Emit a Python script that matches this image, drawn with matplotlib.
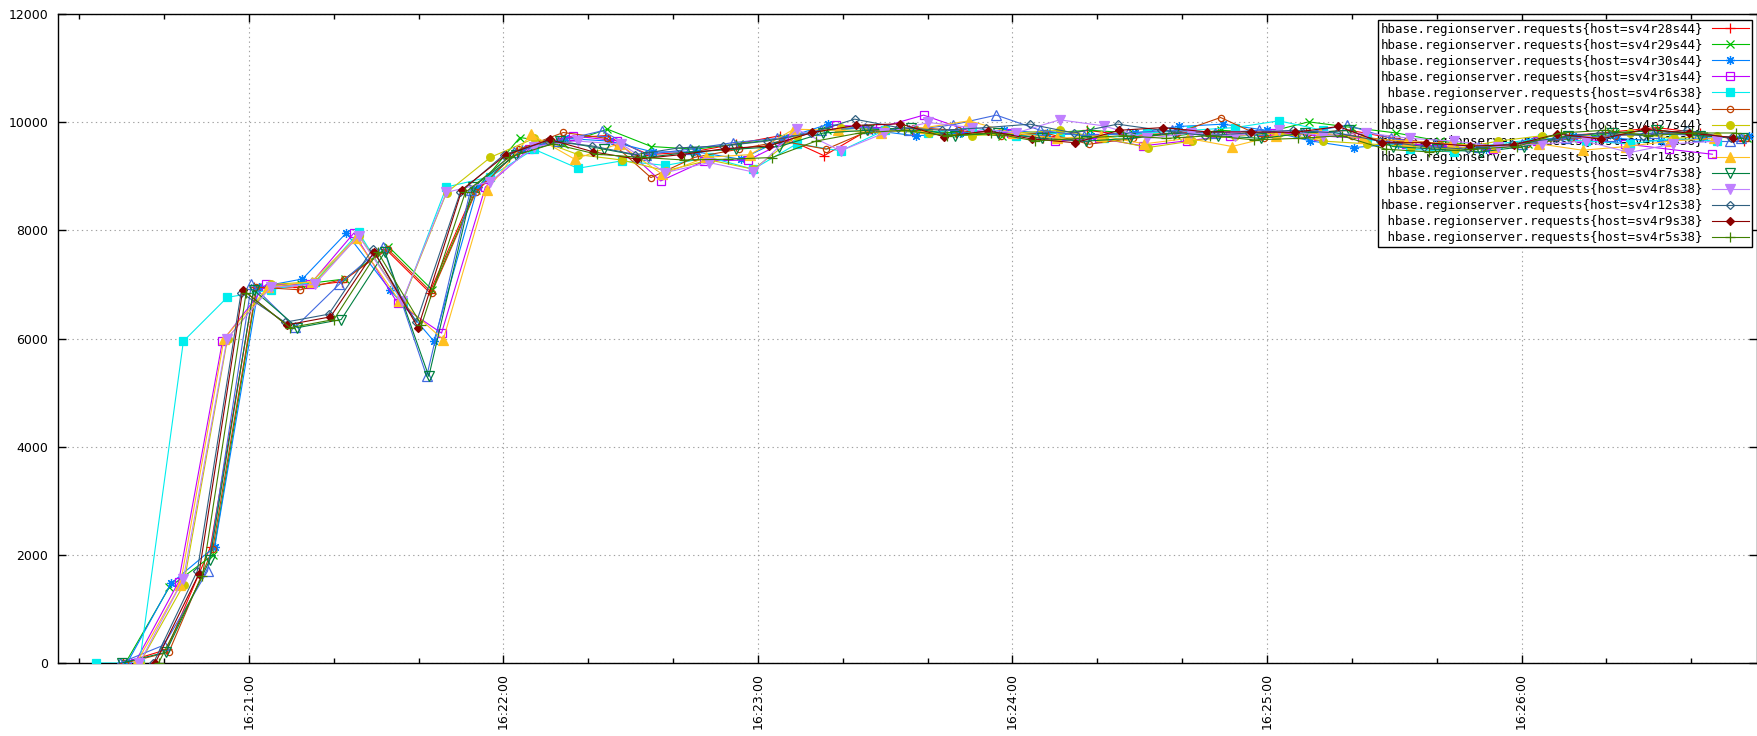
import matplotlib
matplotlib.use("Agg")
import matplotlib.pyplot as plt
from matplotlib.ticker import MultipleLocator, FuncFormatter, NullLocator
from matplotlib.font_manager import FontProperties

METRIC = "hbase.regionserver.requests"
HOSTS = ["sv4r28s44", "sv4r29s44", "sv4r30s44", "sv4r31s44", "sv4r6s38",
         "sv4r25s44", "sv4r27s44", "sv4r13s38", "sv4r14s38", "sv4r7s38",
         "sv4r8s38", "sv4r12s38", "sv4r9s38", "sv4r5s38"]

# seconds after 16:20:00 of each host's first sample in the window
FIRST_SAMPLE_S = [30.3, 30.9, 31.3, 33.1, 23.9, 30.8, 34.3, 29.6, 33.5, 30.1,
                  34.2, 37.5, 37.9, 38.7]
SAMPLE_INTERVAL_S = 10.33

REQ_SV4R28S44 = [0, 250, 2150, 6950, 6950, 7050, 7650, 6850, 8700, 9450, 9700, 9750,
                 9400, 9450, 9600, 9750, 9380, 9850, 9850, 9800, 9800, 9700, 9850, 9750,
                 9800, 9820, 9750, 9800, 9850, 9700, 9600, 9550, 9600, 9750, 9820, 9900,
                 9800, 9650]
REQ_SV4R29S44 = [0, 1400, 2000, 6950, 7000, 7100, 7700, 6900, 8750, 9716, 9600, 9870,
                 9550, 9500, 9600, 9700, 9850, 9900, 9850, 9800, 9750, 9800, 9850, 9800,
                 9750, 9850, 9800, 10006, 9900, 9800, 9650, 9550, 9600, 9700, 9800, 9850,
                 9750, 9700]
REQ_SV4R30S44 = [0, 1470, 2150, 6950, 7100, 7950, 6900, 5950, 8800, 9500, 9700, 9650,
                 9450, 9450, 9315, 9700, 9963, 9850, 9747, 9800, 9850, 9800, 9750, 9800,
                 9920, 9963, 9850, 9654, 9531, 9600, 9550, 9500, 9650, 9750, 9700, 9650,
                 9700, 9750]
REQ_SV4R31S44 = [0, 1500, 5950, 7000, 7000, 7950, 6650, 6100, 8800, 9500, 9747, 9654,
                 8913, 9284, 9300, 9700, 9944, 9900, 10130, 9850, 9800, 9650, 9700, 9562,
                 9654, 9750, 9800, 9750, 9700, 9600, 9550, 9500, 9650, 9700, 9600, 9500,
                 9407]
REQ_SV4R6S38 = [0, 0, 5950, 6760, 6900, 7050, 7960, 6670, 8800, 8990, 9500, 9147,
                9284, 9200, 9350, 9130, 9600, 9469, 9850, 9800, 9900, 9750, 9800, 9700,
                9800, 9850, 9900, 10025, 9850, 9700, 9500, 9450, 9600, 9700, 9650, 9600,
                9700, 9650]
REQ_SV4R25S44 = [0, 200, 2100, 6950, 6900, 7100, 7650, 6850, 8700, 9500, 9809, 9700,
                 8975, 9350, 9500, 9650, 9500, 9850, 9900, 9850, 9747, 9800, 9593, 9700,
                 9800, 10086, 9716, 9800, 9750, 9650, 9600, 9550, 9600, 9700, 9750, 9800,
                 9750, 9700]
REQ_SV4R27S44 = [0, 1450, 6000, 7000, 7050, 7900, 6700, 8698, 9350, 9700, 9400, 9300,
                 9100, 9300, 9130, 9750, 9900, 9850, 9800, 9750, 9800, 9850, 9700, 9531,
                 9650, 9750, 9800, 9650, 9600, 9550, 9500, 9650, 9750, 9700, 9800, 9700,
                 9750]
REQ_SV4R13S38 = [0, 330, 1700, 7000, 6210, 7000, 7700, 5302, 8750, 9450, 9650, 9839,
                 9400, 9500, 9623, 9700, 9850, 9900, 9850, 9950, 10130, 9850, 9750, 9800,
                 9850, 9800, 9850, 9800, 9944, 9700, 9600, 9550, 9600, 9700, 9750, 9800,
                 9750, 9716]
REQ_SV4R14S38 = [0, 1450, 6000, 6950, 7050, 7850, 6700, 5980, 8750, 9778, 9315, 9600,
                 9037, 9350, 9400, 9870, 9850, 9800, 9900, 10025, 9800, 9700, 9750, 9600,
                 9700, 9550, 9750, 9800, 9700, 9650, 9600, 9550, 9600, 9481, 9550, 9650,
                 9700]
REQ_SV4R7S38 = [0, 200, 1900, 6900, 6200, 6350, 7600, 5300, 8800, 9400, 9650, 9500,
                9350, 9450, 9500, 9550, 9800, 9850, 9900, 9750, 9800, 9700, 9650, 9700,
                9800, 9750, 9700, 9800, 9850, 9550, 9500, 9450, 9550, 9750, 9800, 9850,
                9750, 9700]
REQ_SV4R8S38 = [0, 1550, 6000, 6950, 7000, 7900, 6700, 8700, 8900, 9550, 9650, 9593,
                9068, 9253, 9080, 9870, 9469, 9800, 9994, 9900, 9800, 10043, 9932, 9700,
                9800, 9750, 9850, 9750, 9800, 9700, 9650, 9550, 9600, 9650, 9438, 9600,
                9650]
REQ_SV4R12S38 = [0, 1700, 6850, 6300, 6450, 7650, 6300, 8700, 9400, 9650, 9562, 9400,
                 9525, 9562, 9650, 9800, 10056, 9900, 9850, 9900, 9963, 9800, 9963, 9850,
                 9750, 9800, 9850, 9800, 9650, 9550, 9500, 9600, 9700, 9800, 9750, 9850,
                 9700]
REQ_SV4R9S38 = [0, 1650, 6900, 6250, 6400, 7600, 6200, 8750, 9390, 9680, 9450, 9315,
                9400, 9510, 9560, 9810, 9940, 9970, 9730, 9840, 9690, 9620, 9850, 9900,
                9820, 9820, 9810, 9920, 9620, 9620, 9560, 9580, 9780, 9690, 9870, 9800,
                9716]
REQ_SV4R5S38 = [0, 1600, 6850, 6200, 6350, 7600, 6250, 8700, 9350, 9600, 9407, 9350,
                9300, 9315, 9346, 9650, 9800, 9850, 9750, 9800, 9654, 9700, 9750, 9700,
                9750, 9673, 9700, 9750, 9500, 9450, 9500, 9550, 9800, 9850, 9750, 9800,
                9800]

SERIES = [REQ_SV4R28S44, REQ_SV4R29S44, REQ_SV4R30S44, REQ_SV4R31S44, REQ_SV4R6S38,
          REQ_SV4R25S44, REQ_SV4R27S44, REQ_SV4R13S38, REQ_SV4R14S38, REQ_SV4R7S38,
          REQ_SV4R8S38, REQ_SV4R12S38, REQ_SV4R9S38, REQ_SV4R5S38]

# gnuplot-like line colours and point types
COLORS = ["#ff0000", "#00c000", "#0080ff", "#c000ff", "#00eeee", "#c04000", "#c8c800",
          "#4169e1", "#ffc020", "#008040", "#c080ff", "#306080", "#8b0000", "#408000"]
MARKERS = ["+", "x", (8, 2, 0), "s", "s", "o", "o", "^", "^", "v", "v", "D", "D", "+"]
FILLED = [True, True, True, False, True, False, True, False, True, False, True, False,
          True, True]
SIZES = [7, 5.5, 6.5, 5.5, 5.5, 4.5, 5.5, 6.5, 6.5, 6.5, 6.5, 4.5, 4.5, 7]

X_START_S, X_END_S = 15.0, 415.5


def clock_label(sec, _pos=None):
    total = int(round(sec)) + 16 * 3600 + 20 * 60
    return f"{total // 3600:02d}:{(total // 60) % 60:02d}:{total % 60:02d}"


fig = plt.figure(figsize=(17.58, 7.36), dpi=100)
ax = fig.add_axes([58 / 1758, 73 / 736, 1699 / 1758, 649 / 736])

longest = max(len(f"{METRIC}{{host={h}}}") for h in HOSTS)
for i, (host, vals) in enumerate(zip(HOSTS, SERIES)):
    times = [FIRST_SAMPLE_S[i] + SAMPLE_INTERVAL_S * k for k in range(len(vals))]
    label = f"{METRIC}{{host={host}}}"
    label = " " * (longest - len(label)) + label
    ax.plot(times, vals, color=COLORS[i], lw=0.8, marker=MARKERS[i],
            ms=SIZES[i], mew=0.9,
            mfc=COLORS[i] if FILLED[i] else "none", mec=COLORS[i],
            label=label, zorder=3 + i * 0.01)

ax.set_xlim(X_START_S, X_END_S)
ax.set_ylim(0, 12000)
ax.yaxis.set_major_locator(MultipleLocator(2000))
ax.yaxis.set_minor_locator(NullLocator())
ax.xaxis.set_major_locator(MultipleLocator(60))
ax.xaxis.set_minor_locator(MultipleLocator(20))
ax.xaxis.set_major_formatter(FuncFormatter(clock_label))

ax.tick_params(which="both", direction="in", top=True, right=True, width=1.0,
               labelsize=9, colors="black")
ax.tick_params(which="major", length=6, pad=7)
ax.tick_params(which="minor", length=3.5)
for lab in ax.get_xticklabels():
    lab.set_rotation(90)

ax.grid(True, which="major", color="#a0a0a0", lw=0.8, linestyle=(0, (1.2, 3.0)))
ax.set_axisbelow(True)
for sp in ax.spines.values():
    sp.set_linewidth(1.0)
    sp.set_color("black")

leg = ax.legend(loc="upper right", bbox_to_anchor=(0.997, 0.991), markerfirst=False,
                prop=FontProperties(family="DejaVu Sans Mono", size=9),
                frameon=True, fancybox=False, framealpha=1, edgecolor="black",
                borderaxespad=0, handlelength=3.0, handletextpad=0.7,
                labelspacing=0.245, borderpad=0.22)
leg.get_frame().set_linewidth(1.0)
leg.set_zorder(2)

fig.savefig("out.png", dpi=100)
